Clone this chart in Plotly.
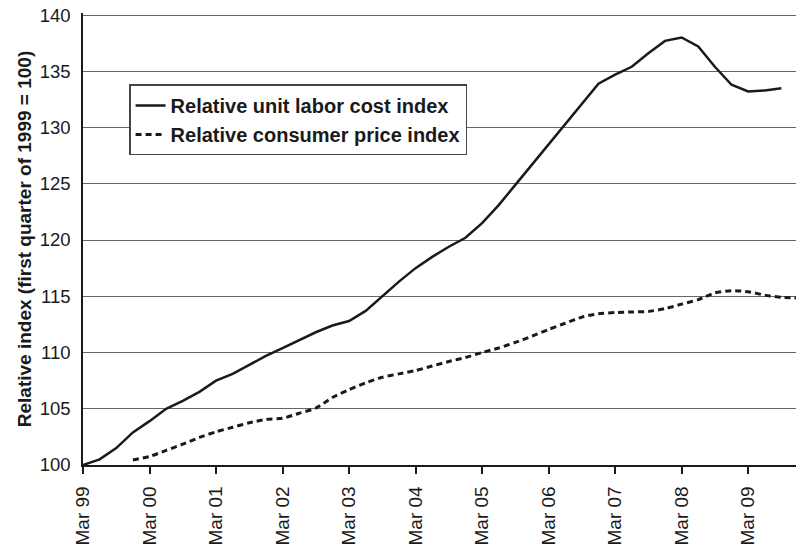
import plotly.graph_objects as go

quarters = [
    "Mar 99", "Jun 99", "Sep 99", "Dec 99",
    "Mar 00", "Jun 00", "Sep 00", "Dec 00",
    "Mar 01", "Jun 01", "Sep 01", "Dec 01",
    "Mar 02", "Jun 02", "Sep 02", "Dec 02",
    "Mar 03", "Jun 03", "Sep 03", "Dec 03",
    "Mar 04", "Jun 04", "Sep 04", "Dec 04",
    "Mar 05", "Jun 05", "Sep 05", "Dec 05",
    "Mar 06", "Jun 06", "Sep 06", "Dec 06",
    "Mar 07", "Jun 07", "Sep 07", "Dec 07",
    "Mar 08", "Jun 08", "Sep 08", "Dec 08",
    "Mar 09", "Jun 09", "Sep 09", "Dec 09",
]

tick_labels = ["Mar 99", "Mar 00", "Mar 01", "Mar 02", "Mar 03", "Mar 04",
               "Mar 05", "Mar 06", "Mar 07", "Mar 08", "Mar 09"]

y_ticks = [100, 105, 110, 115, 120, 125, 130, 135, 140]

unit_labor_cost = [
    100.0, 100.5, 101.5, 102.9, 103.9, 105.0, 105.7, 106.5, 107.5, 108.1,
    108.9, 109.7, 110.4, 111.1, 111.8, 112.4, 112.8, 113.7, 115.0, 116.3,
    117.5, 118.5, 119.4, 120.2, 121.5, 123.1, 124.9, 126.7, 128.5, 130.3,
    132.1, 133.9, 134.7, 135.4, 136.6, 137.7, 138.0, 137.2, 135.4, 133.8,
    133.2, 133.3, 133.5, None,
]

consumer_price = [
    None, None, None, 100.45,
    100.75, 101.3, 101.85, 102.45, 102.95, 103.35, 103.75, 104.05, 104.15, 104.6,
    105.05, 106.0, 106.7, 107.3, 107.8, 108.1, 108.4, 108.8, 109.2, 109.55,
    110.0, 110.4, 110.9, 111.45, 112.05, 112.6, 113.15, 113.45, 113.55, 113.6,
    113.65, 113.9, 114.3, 114.7, 115.3, 115.5, 115.4, 115.1, 114.9, 114.85,
]

FONT = "Liberation Sans, Arial, Helvetica, sans-serif"

fig = go.Figure()
fig.add_trace(go.Scatter(
    x=quarters, y=unit_labor_cost, mode="lines",
    name="Relative unit labor cost index",
    line=dict(color="#1a1a1a", width=2.5),
))
fig.add_trace(go.Scatter(
    x=quarters, y=consumer_price, mode="lines",
    name="Relative consumer price index",
    line=dict(color="#1a1a1a", width=3, dash="6px,4px", shape="spline", smoothing=0.6),
))

# page body has an 8px margin: margins below compensate so the plot area
# lands at x 83..803, y ~13..465 in the browser window
fig.update_layout(
    width=804, height=546,
    margin=dict(l=75, r=9, t=5, b=89, autoexpand=False),
    paper_bgcolor="white", plot_bgcolor="white",
    font=dict(family=FONT, size=19, color="#1a1a1a"),
    showlegend=True,
    legend=dict(
        x=0.064, y=0.842, xanchor="left", yanchor="top",
        bgcolor="white", bordercolor="#444", borderwidth=1.5,
        font=dict(family=FONT, size=20, color="#1a1a1a", weight="bold"),
        traceorder="normal",
        entrywidth=347, entrywidthmode="pixels",
    ),
)

fig.update_xaxes(
    type="category",
    categoryorder="array", categoryarray=quarters,
    range=[0, 43.3],
    tickmode="array", tickvals=tick_labels, ticktext=tick_labels,
    tickangle=-90,
    ticks="outside", ticklen=7, tickcolor="#1a1a1a", tickwidth=1.5,
    ticklabelstandoff=5, ticklabeloverflow="allow",
    showline=True, linecolor="#1a1a1a", linewidth=1.5,
    showgrid=False, zeroline=False, automargin=False,
    tickfont=dict(family=FONT, size=19, color="#1a1a1a"),
)

fig.update_yaxes(
    range=[100, 140.18],
    tickmode="array", tickvals=y_ticks,
    ticks="", ticklabelstandoff=7, ticklabeloverflow="allow",
    showline=True, linecolor="#1a1a1a", linewidth=1.5,
    showgrid=True, gridcolor="#666666", gridwidth=1.2,
    zeroline=False, automargin=False,
    tickfont=dict(family=FONT, size=18.5, color="#1a1a1a"),
    title=dict(
        text="Relative index (first quarter of 1999 = 100)",
        font=dict(family=FONT, size=19, color="#1a1a1a", weight="bold"),
        standoff=3,
    ),
)

fig.write_html("out.html")
